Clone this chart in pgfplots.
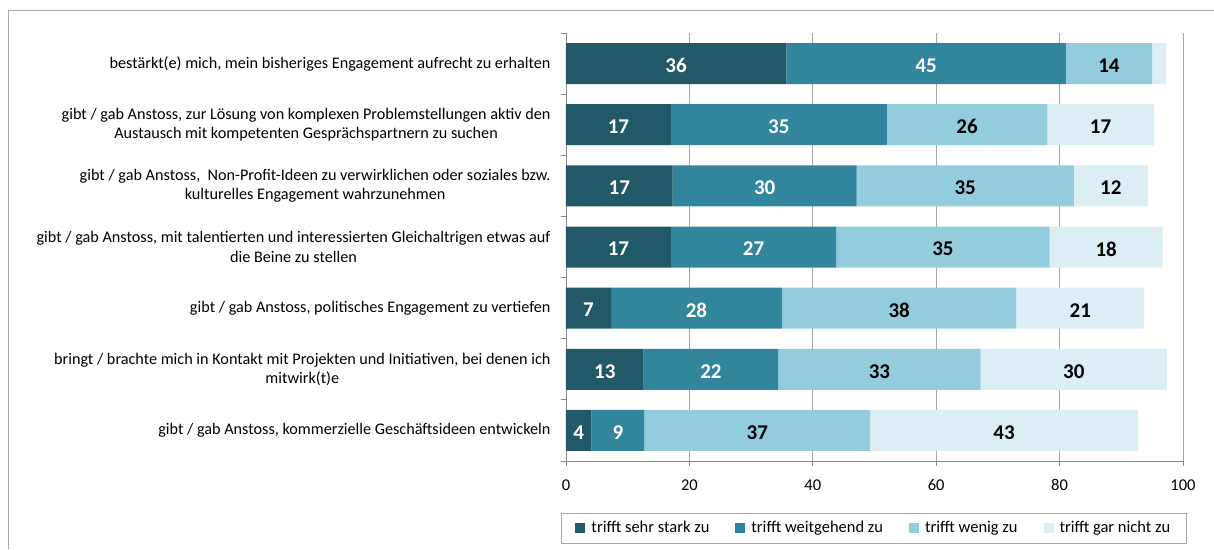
\documentclass[border=0pt]{standalone}
\usepackage{pgfplots}
\pgfplotsset{compat=1.18}
\usepackage{pgfplotstable}
\usepackage{fontspec}
\setmainfont{Carlito}

\definecolor{c1}{HTML}{215968}
\definecolor{c2}{HTML}{31859C}
\definecolor{c3}{HTML}{93CDDD}
\definecolor{c4}{HTML}{DBEEF4}
\definecolor{gridgray}{HTML}{A6A6A6}
\definecolor{axisgray}{HTML}{868686}

% one row per statement, top row first (y = 7)
\pgfplotstableread{
y  a     b     c     d
7  35.7  45.3  14.0  2.3
6  17.0  35.0  26.0  17.3
5  17.3  29.8  35.2  12.0
4  17.0  26.8  34.6  18.3
3  7.3   27.7  38.0  20.7
2  12.6  21.8  32.8  30.2
1  4.1   8.6   36.6  43.4
}\data

\begin{document}
\begin{tikzpicture}
\path[use as bounding box] (-566pt,-88pt) rectangle (648pt,461pt);
\begin{axis}[
  at={(0,0)}, anchor=south west,
  scale only axis,
  width=617pt, height=428pt,
  xbar stacked,
  bar width=41pt,
  xmin=0, xmax=100,
  ymin=0.5, ymax=7.5,
  axis x line*=bottom, axis y line*=left,
  axis line style={axisgray, line width=0.8pt},
  tick align=outside,
  major tick length=5pt, minor tick length=5pt,
  every tick/.style={axisgray, line width=0.8pt},
  xtick={0,20,...,100},
  xmajorgrids,
  grid style={gridgray, line width=0.8pt},
  ytick={1,...,7},
  minor ytick={0.5,1.5,...,7.5},
  major y tick style={draw=none},
  yticklabels={
    {gibt / gab Anstoss, kommerzielle Geschäftsideen entwickeln},
    {bringt / brachte mich in Kontakt mit Projekten und Initiativen, bei denen ich\\mitwirk(t)e},
    {gibt / gab Anstoss, politisches Engagement zu vertiefen},
    {gibt / gab Anstoss, mit talentierten und interessierten Gleichaltrigen etwas auf\\die Beine zu stellen},
    {gibt / gab Anstoss, \ Non-Profit-Ideen zu verwirklichen oder soziales bzw.\\kulturelles Engagement wahrzunehmen},
    {gibt / gab Anstoss, zur Lösung von komplexen Problemstellungen aktiv den\\Austausch mit kompetenten Gesprächspartnern zu suchen},
    {bestärkt(e) mich, mein bisheriges Engagement aufrecht zu erhalten}
  },
  yticklabel style={align=center, font=\fontsize{16.2}{19.5}\selectfont, xshift=-7pt},
  xticklabel style={font=\fontsize{16.5}{19}\selectfont, yshift=-10pt},
  /pgf/number format/assume math mode=true,
  nodes near coords={\pgfmathparse{int(round(\val))}\ifnum\pgfmathresult<3 \else\pgfmathresult\fi},
  every node near coord/.append style={anchor=center, yshift=-2pt,
    font=\fontsize{21}{25}\selectfont\bfseries},
  legend style={at={(0.499,-0.1565)}, anchor=center, legend columns=4,
    draw=gridgray, line width=0.8pt, font=\fontsize{16.5}{19}\selectfont,
    inner xsep=14pt, inner ysep=6.5pt,
    /tikz/every odd column/.append style={column sep=4pt},
    /tikz/every even column/.append style={column sep=24pt}},
  legend image code/.code={\fill[#1] (0pt,-5pt) rectangle (10pt,5pt);},
]
\addplot[fill=c1, draw=none, visualization depends on={\thisrow{a} \as \val},
  every node near coord/.append style={text=white}] table[x=a, y=y] {\data};
\addlegendentry{trifft sehr stark zu}
\addplot[fill=c2, draw=none, visualization depends on={\thisrow{b} \as \val},
  every node near coord/.append style={text=white}] table[x=b, y=y] {\data};
\addlegendentry{trifft weitgehend zu}
\addplot[fill=c3, draw=none, visualization depends on={\thisrow{c} \as \val},
  every node near coord/.append style={text=black}] table[x=c, y=y] {\data};
\addlegendentry{trifft wenig zu}
\addplot[fill=c4, draw=none, visualization depends on={\thisrow{d} \as \val},
  every node near coord/.append style={text=black}] table[x=d, y=y] {\data};
\addlegendentry{trifft gar nicht zu}
\end{axis}
\draw[gridgray, line width=0.8pt] (-558pt,-88pt) -- (-558pt,451pt) -- (648pt,451pt);
\end{tikzpicture}
\end{document}
